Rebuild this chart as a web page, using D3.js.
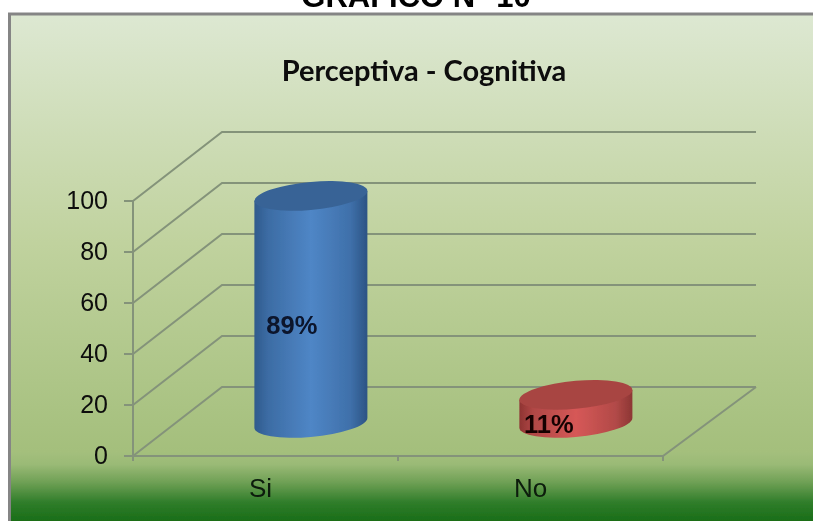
<!DOCTYPE html>
<html>
<head>
<meta charset="utf-8">
<script src="https://cdn.jsdelivr.net/npm/d3@7"></script>
<style>
html, body { margin: 0; padding: 0; background: #fff; overflow: hidden; }
text { font-family: "Liberation Sans", Arial, sans-serif; }
</style>
</head>
<body>
<svg width="813" height="521"></svg>
<script>
const categories = ["Si", "No"];
const percentages = [89, 11];
const yTicks = [0, 20, 40, 60, 80, 100];
const chartTitle = "Perceptiva - Cognitiva";
const heading = "GRAFICO N° 10";

const svg = d3.select("svg");
const defs = svg.append("defs");

// the reference is a soft screenshot
defs.append("filter").attr("id", "soft")
	.attr("filterUnits", "userSpaceOnUse")
	.attr("x", 0).attr("y", 0).attr("width", 813).attr("height", 521)
	.append("feGaussianBlur").attr("stdDeviation", 0.45);
const root = svg.append("g").attr("filter", "url(#soft)");

const y = d3.scaleLinear().domain([0, 100]).range([456, 201]);
const x = d3.scaleBand().domain(categories).range([133, 663]);

// how far the back wall is pushed by the fake 3d
const depthX = 89, depthY = -69;
const barW = 113, ry = 14, tilt = -5;

function vGrad(id, stops) {
	const g = defs.append("linearGradient").attr("id", id)
		.attr("x1", 0).attr("y1", 0).attr("x2", 0).attr("y2", 1);
	stops.forEach((s) => g.append("stop").attr("offset", s[0]).attr("stop-color", s[1]));
}
function hGrad(id, stops) {
	const g = defs.append("linearGradient").attr("id", id)
		.attr("x1", 0).attr("y1", 0).attr("x2", 1).attr("y2", 0);
	stops.forEach((s) => g.append("stop").attr("offset", s[0]).attr("stop-color", s[1]));
}

vGrad("bg", [
	[0, "#dde8d2"],
	[0.45, "#c0d29e"],
	[0.86, "#a4bf7c"],
	[0.885, "#9aba76"],
	[0.92, "#6fa055"],
	[0.96, "#2f7d2a"],
	[1, "#186c16"],
]);
hGrad("blueSide", [
	[0, "#2f5a8c"],
	[0.12, "#3c6ca4"],
	[0.5, "#4f86c6"],
	[0.85, "#3f70aa"],
	[1, "#2c5484"],
]);
hGrad("redSide", [
	[0, "#8e3432"],
	[0.12, "#b04745"],
	[0.5, "#d65857"],
	[0.85, "#b24a48"],
	[1, "#8c3634"],
]);

root.append("rect")
	.attr("x", 9.5).attr("y", 14)
	.attr("width", 812).attr("height", 509)
	.attr("fill", "url(#bg)")
	.attr("stroke", "#858585").attr("stroke-width", 3);

root.append("text")
	.attr("x", 416).attr("y", 7)
	.attr("text-anchor", "middle")
	.attr("font-size", 31).attr("font-weight", "bold")
	.attr("fill", "#000")
	.text(heading);

root.append("text")
	.attr("x", 424).attr("y", 81)
	.attr("text-anchor", "middle")
	.style("font-family", "Lato")
	.attr("font-size", 29).attr("font-weight", "bold")
	.attr("fill", "#0a0a0a")
	.text(chartTitle);

const grid = "#84937a";
const wall = root.append("g").attr("fill", "none").attr("stroke", grid).attr("stroke-width", 2);

// side wall + back wall lines
yTicks.forEach((t) => {
	wall.append("path").attr("d", d3.line()([
		[x.range()[0], y(t)],
		[x.range()[0] + depthX, y(t) + depthY],
		[x.range()[1] + depthX + 4, y(t) + depthY],
	]));
});
// floor front edge and right edge
wall.append("path").attr("d", d3.line()([
	[x.range()[0], y(0)],
	[x.range()[1], y(0)],
	[x.range()[1] + depthX + 4, y(0) + depthY],
]));
// value axis
wall.append("line")
	.attr("x1", x.range()[0]).attr("x2", x.range()[0])
	.attr("y1", y(100)).attr("y2", y(0) + 5);
wall.selectAll(".ytick").data(yTicks).join("line")
	.attr("class", "ytick")
	.attr("x1", x.range()[0] - 9).attr("x2", x.range()[0])
	.attr("y1", (d) => y(d)).attr("y2", (d) => y(d));
// category separators below the floor
wall.selectAll(".xtick").data([133, 398, 663]).join("line")
	.attr("class", "xtick")
	.attr("x1", (d) => d).attr("x2", (d) => d)
	.attr("y1", y(0)).attr("y2", y(0) + 5);

root.selectAll(".ylab").data(yTicks).join("text")
	.attr("class", "ylab")
	.attr("x", 108).attr("y", (d) => y(d) + 8)
	.attr("text-anchor", "end")
	.attr("font-size", 25).attr("fill", "#0c0c0c")
	.text((d) => d);

const xLabelShift = [-5, 0];
root.selectAll(".xlab").data(categories).join("text")
	.attr("class", "xlab")
	.attr("x", (d, i) => x(d) + x.bandwidth() / 2 + xLabelShift[i]).attr("y", 497)
	.attr("text-anchor", "middle")
	.attr("font-size", 26).attr("fill", "#0c1c0c")
	.text((d) => d);

// cylinders sit halfway back in the floor
const barData = categories.map((c, i) => ({ c, v: percentages[i] }));
const sideFill = ["url(#blueSide)", "url(#redSide)"];
const topFill = ["#386496", "#a84543"];
const labelFill = ["#08122c", "#160505"];
const labelDx = [-19, -27];
const labelY = [334, 433];
const bars = root.append("g");

barData.forEach((d, i) => {
	const cx = x(d.c) + x.bandwidth() / 2 + depthX * 0.51;
	const offY = depthY * 0.48;
	const top = y(d.v) + offY, base = y(0) + offY;
	const rx = barW / 2;
	// skew keeps the sides upright, only the ellipses lean
	const g = bars.append("g");
	g.append("path")
		.attr("d", `M${cx - rx},${base} A${rx},${ry} 0 0 0 ${cx + rx},${base} L${cx + rx},${top} L${cx - rx},${top} Z`)
		.attr("transform", `translate(${cx} 0) skewY(${tilt}) translate(${-cx} 0)`)
		.attr("fill", sideFill[i]);
	g.append("ellipse")
		.attr("cx", cx).attr("cy", top)
		.attr("rx", rx).attr("ry", ry)
		.attr("transform", `translate(${cx} 0) skewY(${tilt}) translate(${-cx} 0)`)
		.attr("fill", topFill[i]);
	root.append("text")
		.attr("x", cx + labelDx[i])
		.attr("y", labelY[i])
		.attr("text-anchor", "middle")
		.attr("font-size", 25.5).attr("font-weight", "bold")
		.attr("fill", labelFill[i])
		.text(d.v + "%");
});
</script>
</body>
</html>
